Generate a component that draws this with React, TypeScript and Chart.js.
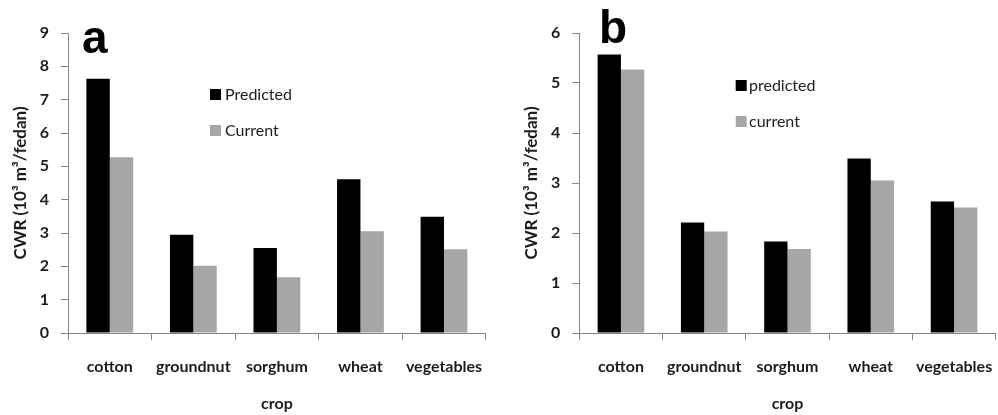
import React, { useEffect, useRef } from "react";
import { Chart, registerables } from "chart.js";

Chart.register(...registerables);

const categories = ["cotton", "groundnut", "sorghum", "wheat", "vegetables"];
const predictedA = [7.63, 2.95, 2.55, 4.61, 3.49];
const currentA = [5.27, 2.02, 1.67, 3.05, 2.51];
const predictedB = [5.57, 2.21, 1.83, 3.49, 2.63];
const currentB = [5.27, 2.03, 1.68, 3.05, 2.51];
const labelsA = ["Predicted", "Current"];
const labelsB = ["predicted", "current"];
const yMaxA = 9;
const yMaxB = 6;

const TEXT = "#1c1c1c";
const AXIS = "#868686";
const FONT = "Lato, 'Noto Sans', sans-serif";

type Panel = {
  letter: string;
  letterX: number;
  letterY: number;
  legX: number;
  legY: number;
  legTextX: number;
  yWidth: number;
  padRight: number;
  titlePad: number;
};

function makeChart(
  canvas: HTMLCanvasElement,
  pred: number[],
  cur: number[],
  names: string[],
  yMax: number,
  p: Panel
) {
  const overlay = {
    id: "overlay" + p.letter,
    afterDraw(chart: any) {
      const ctx = chart.ctx as CanvasRenderingContext2D;
      const ca = chart.chartArea;
      ctx.save();
      ctx.fillStyle = "#000";
      ctx.font = "bold 46px 'Liberation Sans', Arial, sans-serif";
      ctx.textBaseline = "alphabetic";
      ctx.textAlign = "left";
      ctx.fillText(p.letter, p.letterX, p.letterY);
      ctx.font = "16px " + FONT;
      ctx.textBaseline = "middle";
      chart.data.datasets.forEach((ds: any, i: number) => {
        const y = p.legY + i * 36;
        ctx.fillStyle = ds.backgroundColor;
        ctx.fillRect(ca.left + p.legX, y, 11, 11);
        ctx.fillStyle = TEXT;
        ctx.fillText(ds.label, ca.left + p.legTextX, y + 6);
      });
      ctx.restore();
    },
  };

  return new Chart(canvas, {
    type: "bar",
    data: {
      labels: categories,
      datasets: [
        { label: names[0], data: pred, backgroundColor: "#000000", borderWidth: 0 },
        { label: names[1], data: cur, backgroundColor: "#a6a6a6", borderWidth: 0 },
      ],
    },
    options: {
      responsive: false,
      animation: false,
      devicePixelRatio: 1,
      layout: { padding: { left: 0, right: p.padRight, top: 33, bottom: 0 } },
      datasets: { bar: { categoryPercentage: 0.56, barPercentage: 1.0 } },
      plugins: { legend: { display: false }, tooltip: { enabled: false } },
      scales: {
        x: {
          offset: true,
          grid: {
            offset: true,
            drawOnChartArea: false,
            drawTicks: true,
            tickLength: 7,
            color: AXIS,
          },
          border: { display: true, color: AXIS, width: 1 },
          ticks: {
            color: TEXT,
            padding: 17,
            maxRotation: 0,
            autoSkip: false,
            font: { family: FONT, size: 16, weight: "bold" },
          },
          title: {
            display: true,
            text: "crop",
            color: TEXT,
            padding: { top: 0, bottom: 1.5 },
            font: { family: FONT, size: 16, weight: "bold" },
          },
          afterFit: (s: any) => {
            s.height = 82;
          },
        },
        y: {
          min: 0,
          max: yMax,
          grid: {
            drawOnChartArea: false,
            drawTicks: true,
            tickLength: 7,
            color: AXIS,
          },
          border: { display: true, color: AXIS, width: 1 },
          ticks: {
            stepSize: 1,
            color: TEXT,
            padding: 12,
            font: { family: FONT, size: 16, weight: "bold" },
          },
          title: {
            display: true,
            text: "CWR (10³ m³/fedan)",
            color: TEXT,
            padding: { top: p.titlePad, bottom: 0 },
            font: { family: FONT, size: 17, weight: "bold" },
          },
          afterFit: (s: any) => {
            s.width = p.yWidth;
          },
        },
      },
    } as any,
    plugins: [overlay],
  });
}

export default function App() {
  const refA = useRef<HTMLCanvasElement>(null);
  const refB = useRef<HTMLCanvasElement>(null);

  useEffect(() => {
    const a = makeChart(refA.current!, predictedA, currentA, labelsA, yMaxA, {
      letter: "a",
      letterX: 82,
      letterY: 53,
      legX: 142,
      legY: 89,
      legTextX: 157,
      yWidth: 68,
      padRight: 9,
      titlePad: 10,
    });
    const b = makeChart(refB.current!, predictedB, currentB, labelsB, yMaxB, {
      letter: "b",
      letterX: 99,
      letterY: 43,
      legX: 156.4,
      legY: 80,
      legTextX: 169.7,
      yWidth: 79.3,
      padRight: 8.3,
      titlePad: 21.5,
    });
    return () => {
      a.destroy();
      b.destroy();
    };
  }, []);

  return (
    <div
      style={{
        position: "fixed",
        left: 0,
        top: 0,
        width: 998,
        height: 415,
        overflow: "hidden",
        background: "#ffffff",
      }}
    >
      <canvas
        ref={refA}
        width={500}
        height={415}
        style={{ position: "absolute", left: 0, top: 0, width: 500, height: 415 }}
      />
      <canvas
        ref={refB}
        width={510}
        height={415}
        style={{ position: "absolute", left: 500, top: 0, width: 510, height: 415 }}
      />
    </div>
  );
}
